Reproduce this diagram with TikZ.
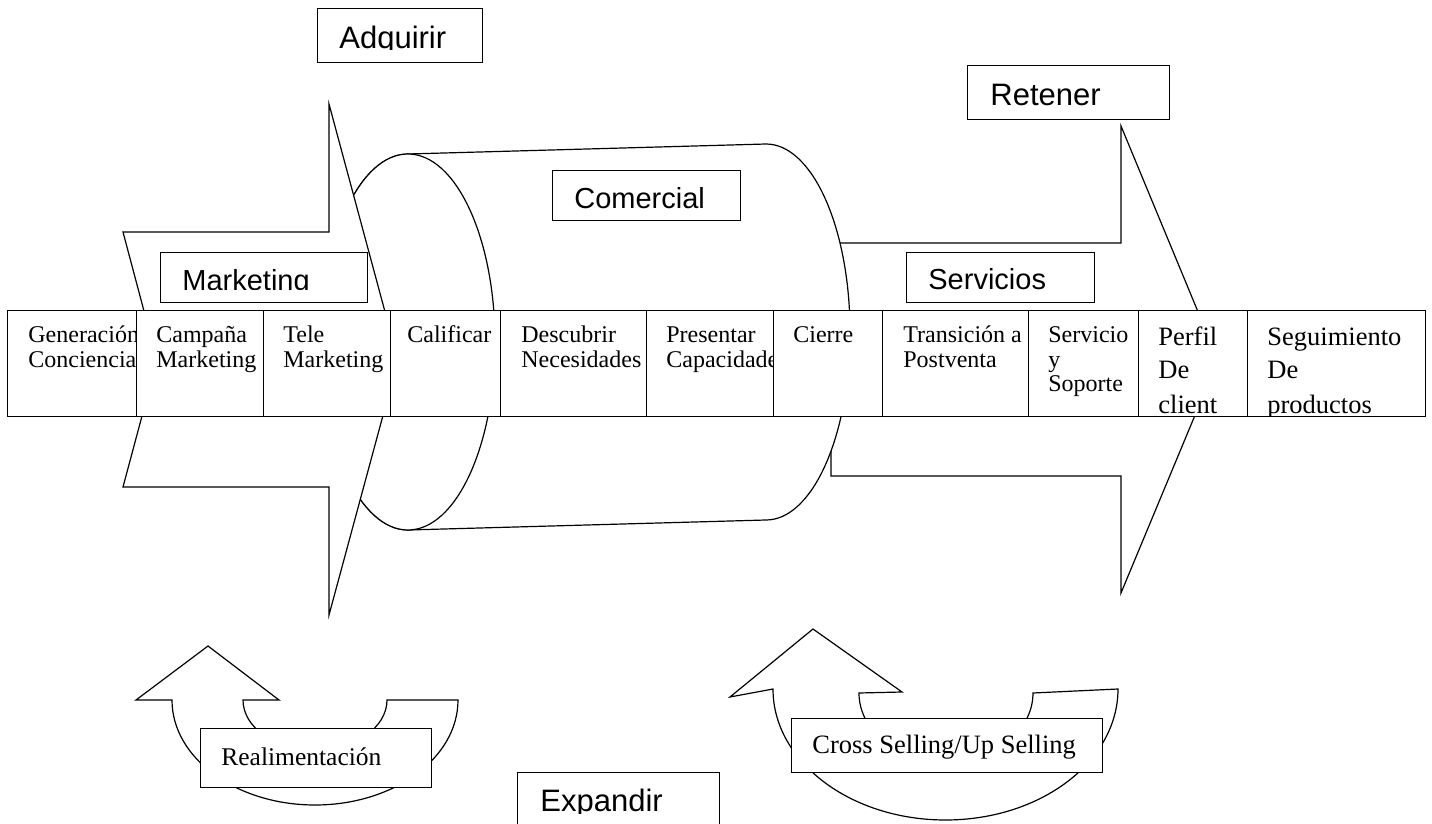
\documentclass[tikz,border=0pt]{standalone}
\usepackage{fontspec}
\setmainfont{Liberation Serif}
\newfontfamily\arialf{Liberation Sans}
\begin{document}
\begin{tikzpicture}[x=0.5pt,y=-0.5pt,
  shp/.style={draw=black, fill=white, line width=0.6pt, line join=miter},
  rowbox/.style={draw=black, fill=white, line width=0.7pt, minimum height=53pt, inner sep=0pt, anchor=north west},
  labbox/.style={draw=black, fill=white, line width=0.6pt, inner sep=0pt, anchor=north west},
  rt/.style={anchor=base west, inner sep=0pt, font=\fontsize{12}{14}\selectfont},
  rtb/.style={anchor=base west, inner sep=0pt, font=\fontsize{13.25}{16}\selectfont},
  laba/.style={anchor=base west, inner sep=0pt, font=\arialf\fontsize{15.5}{18}\selectfont},
  labb/.style={anchor=base west, inner sep=0pt, font=\arialf\fontsize{14.5}{17}\selectfont}]
\useasboundingbox (0,0) rectangle (1432,824);
\clip (0,0) rectangle (1432,824);
\fill[white] (0,0) rectangle (1432,824);

% Retener arrow (behind the cylinder)
\draw[shp] (831,243) -- (1121,243) -- (1121,126) -- (1218,360) -- (1121,593) -- (1121,476) -- (831,476) -- cycle;

% cylinder
\draw[shp] (408,154) -- (766,144) arc[start angle=-90, end angle=90, x radius=84, y radius=188]
  -- (408,530) arc[start angle=90, end angle=270, x radius=87, y radius=188] -- cycle;
\draw[shp] (408,342) ellipse [x radius=87, y radius=188];

% Adquirir arrow (in front of the cylinder)
\draw[shp] (157,360) -- (123,232) -- (329,232) -- (329,104) -- (398,360) -- (329,615) -- (329,487) -- (123,487) -- cycle;

% label boxes
\node[labbox, minimum width=82.5pt, minimum height=27pt] (adq) at (317,8) {};
\begin{scope}\clip (317,8) rectangle (482,49.5); \node[laba] (adqt) at (339,48.5) {Adquirir}; \end{scope}

\node[labbox, minimum width=101pt, minimum height=27pt] (ret) at (967,65) {};
\node[laba] (rett) at (990,106) {Retener};

\node[labbox, minimum width=94pt, minimum height=25pt] (com) at (552,170) {};
\node[labb] (comt) at (574,209) {Comercial};

\node[labbox, minimum width=103.5pt, minimum height=25pt] (mkt) at (160,252) {};
\begin{scope}\clip (160,252) rectangle (367,290); \node[labb] (mktt) at (182,291) {Marketing}; \end{scope}

\node[labbox, minimum width=94pt, minimum height=25pt] (ser) at (906,252) {};
\node[labb] (sert) at (928,290) {Servicios};

% row of steps
\newcommand\rowb[4]{%
  \node[rowbox, minimum width={(#3-#2)*0.5pt}] (#1) at (#2,310) {};
  \begin{scope}\clip (#2,310) rectangle (#3,415); #4 \end{scope}}
\rowb{b1}{7}{136}{\node[rt] (b1a) at (28,343) {Generación}; \node[rt] (b1b) at (28,367) {Conciencia};}
\rowb{b2}{136}{263}{\node[rt] (b2a) at (156,343) {Campaña}; \node[rt] (b2b) at (156,367) {Marketing};}
\rowb{b3}{263}{390}{\node[rt] (b3a) at (283,343) {Tele}; \node[rt] (b3b) at (283,367) {Marketing};}
\rowb{b4}{390}{500}{\node[rt] (b4a) at (407,343) {Calificar};}
\rowb{b5}{500}{646}{\node[rt] (b5a) at (521,343) {Descubrir}; \node[rt] (b5b) at (521,367) {Necesidades};}
\rowb{b6}{646}{773}{\node[rt] (b6a) at (666,343) {Presentar}; \node[rt] (b6b) at (666,367) {Capacidades};}
\rowb{b7}{773}{882}{\node[rt] (b7a) at (793,343) {Cierre};}
\rowb{b8}{882}{1028}{\node[rt] (b8a) at (903,343) {Transición a}; \node[rt] (b8b) at (903,367) {Postventa};}
\rowb{b9}{1028}{1138}{\node[rt] (b9a) at (1048,343) {Servicio}; \node[rt] (b9b) at (1048,367) {y}; \node[rt] (b9c) at (1048,391) {Soporte};}
\rowb{b10}{1138}{1247}{\node[rtb] (b10a) at (1158,345) {Perfil}; \node[rtb] (b10b) at (1158,379) {De}; \node[rtb] (b10c) at (1158,413) {client};}
\rowb{b11}{1247}{1425}{\node[rtb] (b11a) at (1267,345) {Seguimiento}; \node[rtb] (b11b) at (1267,379) {De}; \node[rtb] (b11c) at (1267,413) {productos};}

% feedback U-turn arrows
\draw[shp] (208,646) -- (279,700) -- (243,700) arc[start angle=180, end angle=0, x radius=72, y radius=50]
  -- (458,700) arc[start angle=0, end angle=180, x radius=143, y radius=105] -- (136,700) -- cycle;
\node[labbox, minimum width=115.5pt, minimum height=29.5pt] (real) at (200,728) {};
\node[anchor=base west, inner sep=0pt, font=\fontsize{12.75}{15}\selectfont] (realt) at (221,765) {Realimentación};

\draw[shp] (813,629) -- (902,692) -- (859,693) arc[start angle=180, end angle=0, x radius=87, y radius=69]
  -- (1118,689) arc[start angle=0, end angle=180, x radius=172.5, y radius=131] -- (730,697) -- cycle;
\node[labbox, minimum width=155.5pt, minimum height=27pt] (cross) at (791,718) {};
\node[rtb] (crosst) at (812,753) {Cross Selling/Up Selling};

\node[labbox, minimum width=101pt, minimum height=29pt] (exp) at (517,772) {};
\begin{scope}\clip (517,772) rectangle (719,813); \node[laba] (expt) at (540,811) {Expandir}; \end{scope}
\end{tikzpicture}
\end{document}
